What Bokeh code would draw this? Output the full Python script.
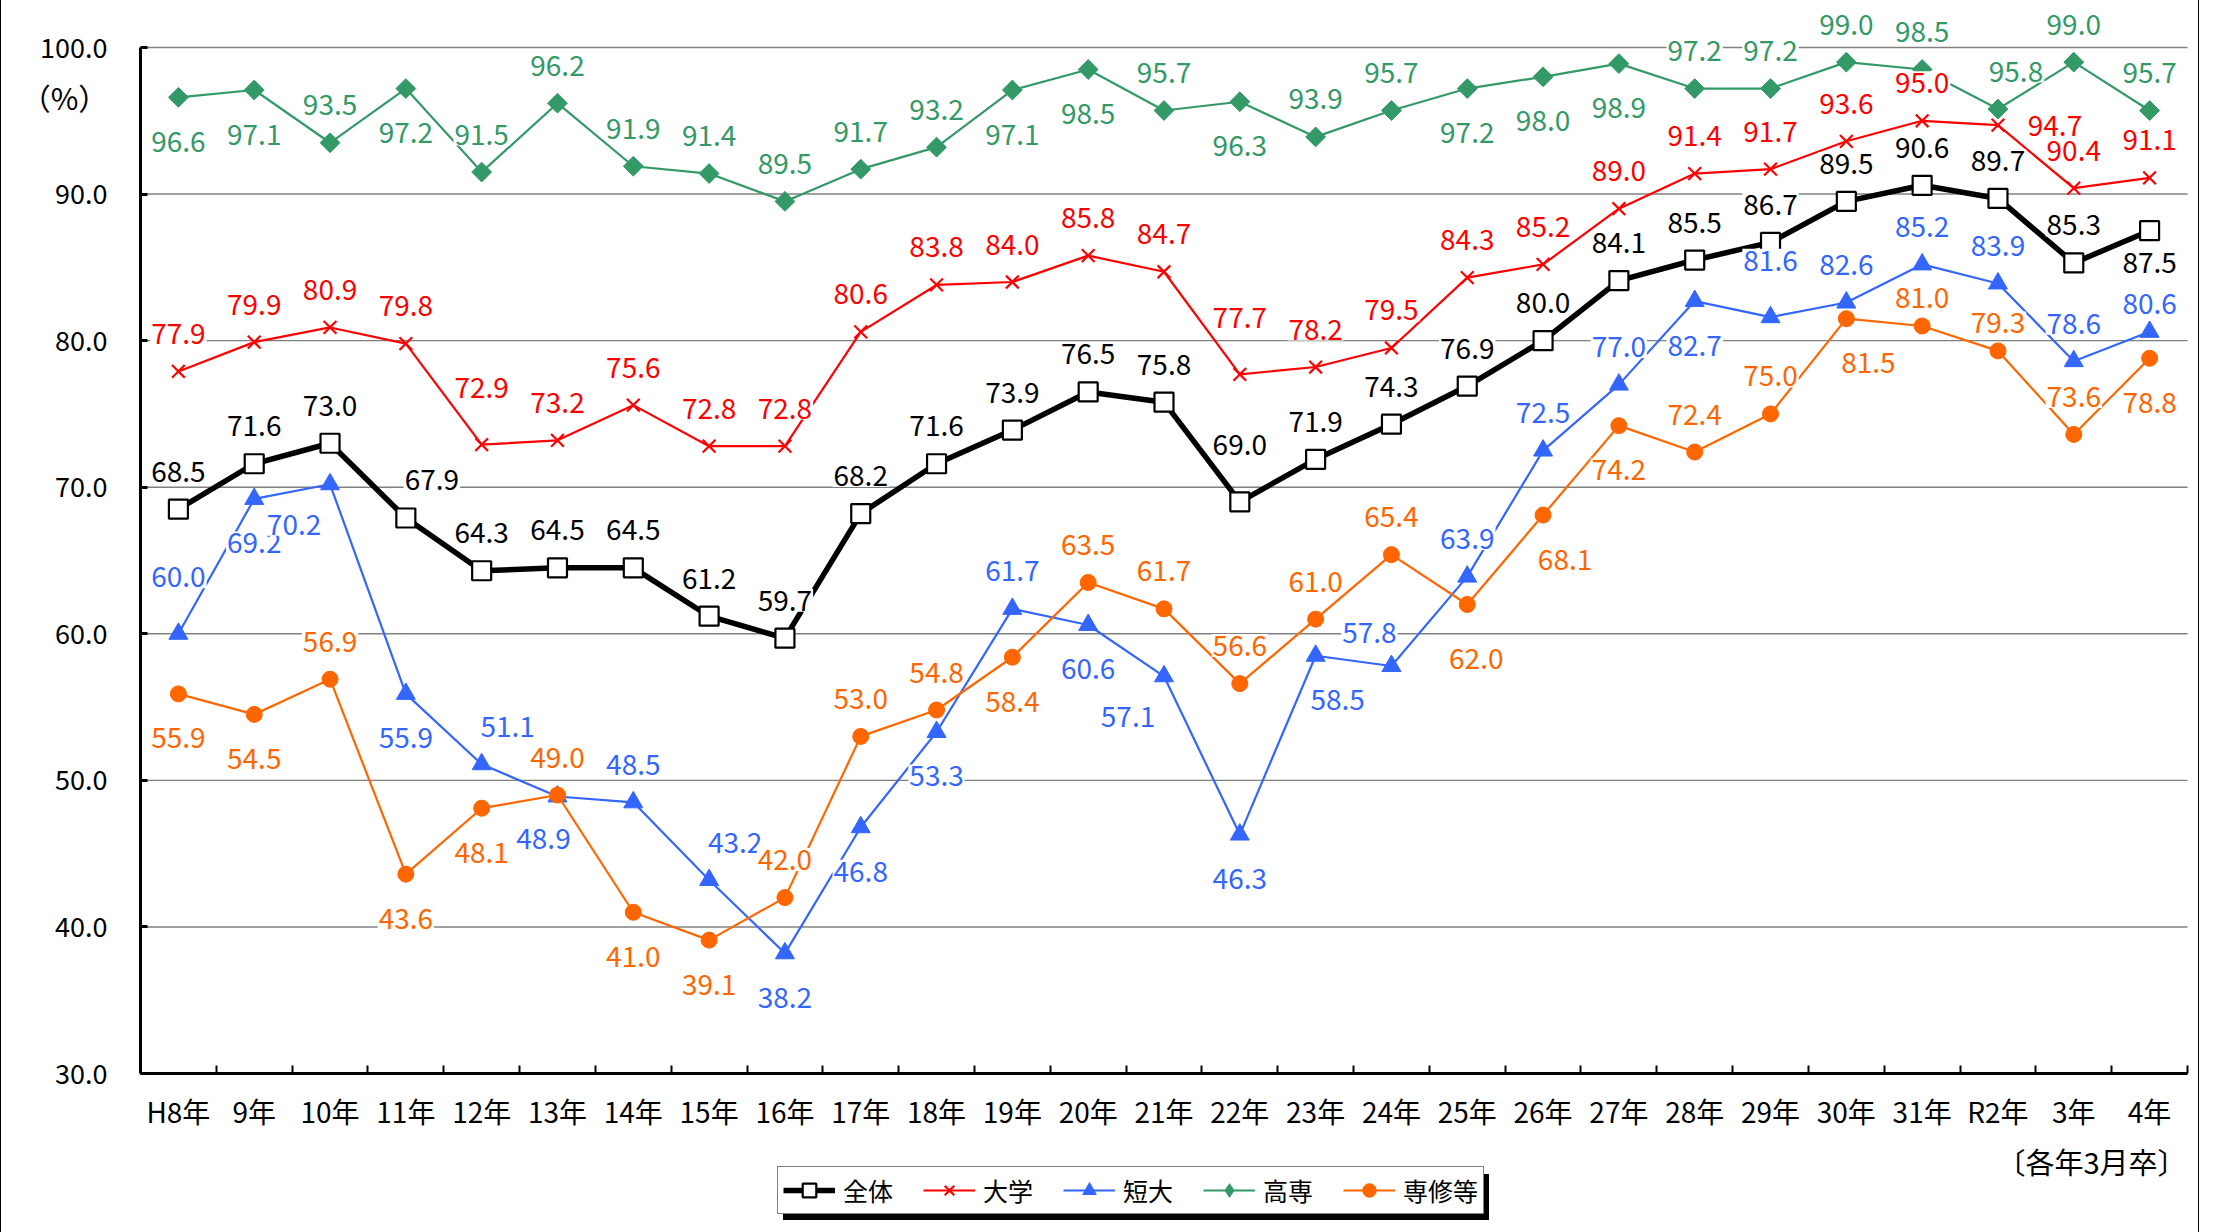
from bokeh.plotting import figure
from bokeh.models import (Range1d, FixedTicker, PrintfTickFormatter, Legend,
                          LegendItem, Label, ColumnDataSource, LinearAxis)
from bokeh.core.properties import value
from bokeh.embed import file_html
from bokeh.resources import INLINE

categories = ["H8年", "9年", "10年", "11年", "12年", "13年", "14年", "15年", "16年",
              "17年", "18年", "19年", "20年", "21年", "22年", "23年", "24年", "25年",
              "26年", "27年", "28年", "29年", "30年", "31年", "R2年", "3年", "4年"]

zentai = [68.5, 71.6, 73.0, 67.9, 64.3, 64.5, 64.5, 61.2, 59.7, 68.2, 71.6, 73.9, 76.5, 75.8,
          69.0, 71.9, 74.3, 76.9, 80.0, 84.1, 85.5, 86.7, 89.5, 90.6, 89.7, 85.3, 87.5]
daigaku = [77.9, 79.9, 80.9, 79.8, 72.9, 73.2, 75.6, 72.8, 72.8, 80.6, 83.8, 84.0, 85.8, 84.7,
           77.7, 78.2, 79.5, 84.3, 85.2, 89.0, 91.4, 91.7, 93.6, 95.0, 94.7, 90.4, 91.1]
tandai = [60.0, 69.2, 70.2, 55.9, 51.1, 48.9, 48.5, 43.2, 38.2, 46.8, 53.3, 61.7, 60.6, 57.1,
          46.3, 58.5, 57.8, 63.9, 72.5, 77.0, 82.7, 81.6, 82.6, 85.2, 83.9, 78.6, 80.6]
kosen = [96.6, 97.1, 93.5, 97.2, 91.5, 96.2, 91.9, 91.4, 89.5, 91.7, 93.2, 97.1, 98.5, 95.7,
         96.3, 93.9, 95.7, 97.2, 98.0, 98.9, 97.2, 97.2, 99.0, 98.5, 95.8, 99.0, 95.7]
senshu = [55.9, 54.5, 56.9, 43.6, 48.1, 49.0, 41.0, 39.1, 42.0, 53.0, 54.8, 58.4, 63.5, 61.7,
          56.6, 61.0, 65.4, 62.0, 68.1, 74.2, 72.4, 75.0, 81.5, 81.0, 79.3, 73.6, 78.8]

y_ticks = [30, 40, 50, 60, 70, 80, 90, 100]

# label placement: a=above, a-=close above, A=far above, b=below, b-=close below,
# B=far below, ar/al/br/bl/bL/ar2 diagonals, r=right
zentai_pos = ["a", "a", "a", "ar", "a", "a", "a", "a", "a", "a", "a", "a", "a", "a",
              "A", "a", "a", "a", "a", "a", "a", "a", "a", "a", "a", "a", "b-"]
daigaku_pos = ["a", "a", "a", "a", "A", "a", "a", "a", "a", "a", "a", "a", "a", "a",
               "A", "a", "a", "a", "a", "a", "a", "a", "a", "a", "r", "a", "a"]
tandai_pos = ["A", "b", "bl", "b", "ar", "bL", "a", "ar", "b", "b", "b", "a", "b", "bl",
              "b", "br", "al", "a", "a", "a", "b", "A", "a", "a", "a", "a", "a-"]
kosen_pos = ["b", "b", "a", "b", "a", "a", "a", "a", "a", "a", "a", "b", "b", "a",
             "b", "a", "a", "b", "b", "b", "a", "a", "a", "a", "ar2", "a", "a"]
senshu_pos = ["b", "b", "a", "b", "b", "a", "b", "b", "a", "a", "a", "b", "a", "a",
              "a", "a", "a", "B", "br", "b", "a", "a", "br", "a-", "a-", "a", "b"]

OFFSETS = {"a": (0, -38), "a-": (0, -28), "A": (0, -57), "b": (0, 44), "b-": (0, 32),
           "B": (9, 54), "ar": (26, -38), "ar2": (18, -38), "al": (-22, -34),
           "br": (22, 44), "bl": (-36, 40), "bL": (-14, 42), "r": (57, 0)}

NUM_FONT = "'Liberation Sans Narrow', 'Noto Sans CJK JP', sans-serif"
JP_FONT = "'Noto Sans CJK JP', sans-serif"

# layout geometry (page pixels)
ORIGIN_X, ORIGIN_Y = 1, 0       # canvas position on the page
W, H = 2199, 1232               # canvas size
AX_LEFT, AX_RIGHT = 140, 2187
Y_TOP_PX, Y_BOT_PX = 47, 1073   # pixel rows of 100 and 30

n = len(categories)
xs = [i + 0.5 for i in range(n)]

px_per_x = (AX_RIGHT - AX_LEFT) / n
px_per_y = (Y_BOT_PX - Y_TOP_PX) / (y_ticks[-1] - y_ticks[0])
x_start = (ORIGIN_X - AX_LEFT) / px_per_x
x_end = (ORIGIN_X + W - AX_LEFT) / px_per_x
y_end = y_ticks[-1] + (Y_TOP_PX - ORIGIN_Y) / px_per_y
y_start = y_ticks[-1] - (ORIGIN_Y + H - Y_TOP_PX) / px_per_y


def page_to_data(px, py):
    return (px - AX_LEFT) / px_per_x, y_ticks[-1] - (py - Y_TOP_PX) / px_per_y


p = figure(width=W, height=H, x_range=Range1d(x_start, x_end), y_range=Range1d(y_start, y_end),
           output_backend="svg", toolbar_location=None, title=None,
           x_axis_location=None, y_axis_location=None,
           min_border=0, min_border_left=0, min_border_right=0,
           min_border_top=0, min_border_bottom=0)
p.outline_line_color = None
p.background_fill_color = "white"
p.border_fill_color = "white"
p.grid.visible = False
p.styles = {"border-left": "1px solid #000000", "border-right": "1px solid #000000"}

# horizontal gridlines spanning the plot area only
grid_src = ColumnDataSource(dict(x0=[0] * len(y_ticks), x1=[n] * len(y_ticks), y=y_ticks))
p.segment(x0="x0", y0="y", x1="x1", y1="y", source=grid_src, line_color="#808080",
          line_width=1.4)

# y axis
yax = LinearAxis(fixed_location=0, bounds=(y_ticks[0], y_ticks[-1]),
                 ticker=FixedTicker(ticks=y_ticks),
                 formatter=PrintfTickFormatter(format="%.1f"))
yax.major_tick_in = 7
yax.major_tick_out = 0
yax.major_tick_line_width = 3
yax.minor_tick_line_color = None
yax.axis_line_width = 3
yax.major_label_standoff = 33
yax.major_label_text_font = NUM_FONT
yax.major_label_text_font_size = "27px"
yax.major_label_text_color = "black"
p.add_layout(yax, "left")

# x axis: labels at centres, ticks at boundaries
xax = LinearAxis(fixed_location=y_ticks[0], bounds=(0, n),
                 ticker=FixedTicker(ticks=xs, minor_ticks=list(range(1, n + 1))))
xax.major_label_overrides = {x: c for x, c in zip(xs, categories)}
xax.major_tick_in = 0
xax.major_tick_out = 0
xax.minor_tick_in = 8
xax.minor_tick_out = 0
xax.minor_tick_line_width = 2
xax.axis_line_width = 3
xax.major_label_standoff = 17
xax.major_label_text_font = NUM_FONT
xax.major_label_text_font_size = "28px"
xax.major_label_text_color = "black"
p.add_layout(xax, "below")

series = [
    ("全体", zentai, zentai_pos, "black", "square", 19, 5.5),
    ("大学", daigaku, daigaku_pos, "#FF0000", "x", 18, 2.2),
    ("短大", tandai, tandai_pos, "#3366FF", "triangle", 19, 2.2),
    ("高専", kosen, kosen_pos, "#339966", "square_rot", 14, 2.2),
    ("専修等", senshu, senshu_pos, "#FF6600", "circle", 16, 2.2),
]

items = []
shadow_items = []
label_sources = []
for name, vals, pos, color, marker, size, lw in series:
    src = ColumnDataSource(dict(x=xs, y=vals,
                                label=["%.1f" % v for v in vals],
                                dx=[OFFSETS[k][0] for k in pos],
                                dy=[OFFSETS[k][1] for k in pos]))
    lr = p.line("x", "y", source=src, line_color=color, line_width=lw)
    legend_renderers = [lr]
    if marker == "square":
        mr = p.scatter("x", "y", source=src, marker="square", size=size, fill_color="white",
                       line_color="black", line_width=2.2)
        legend_renderers.append(mr)
    elif marker == "x":
        mr = p.scatter("x", "y", source=src, marker="x", size=size, line_color=color,
                       line_width=2.2)
        legend_renderers.append(mr)
    elif marker == "square_rot":
        p.scatter("x", "y", source=src, marker="square", angle=0.7854, size=size,
                  fill_color=color, line_color=color, line_width=1)
        # diamond shape for the legend key only
        legend_renderers.append(p.scatter("x", "y", source=src, marker="diamond", size=size,
                                          fill_color=color, line_color=color, visible=False))
    else:
        mr = p.scatter("x", "y", source=src, marker=marker, size=size, fill_color=color,
                       line_color=color, line_width=1)
        legend_renderers.append(mr)
    items.append(LegendItem(label=name, renderers=legend_renderers))
    shadow_items.append(LegendItem(label=" ", renderers=[lr]))
    label_sources.append((src, color))

for src, color in label_sources:
    p.text("x", "y", text="label", source=src, x_offset="dx", y_offset="dy",
           text_align="center", text_baseline="middle", text_color=color,
           text_font=value(NUM_FONT), text_font_size=value("28px"),
           background_fill_color="white", padding=1)

# legend with drop shadow (location measured from the canvas bottom-left)
leg_kw = dict(orientation="horizontal", label_text_font=JP_FONT, label_text_font_size="25px",
              glyph_width=52, glyph_height=34, label_standoff=8, label_width=74,
              label_height=30, spacing=6, padding=5, margin=0)
legend_left = 777 - ORIGIN_X
legend_bottom = ORIGIN_Y + H - 1214
shadow = Legend(items=shadow_items, location=(legend_left + 6, legend_bottom - 6),
                background_fill_color="black", background_fill_alpha=1.0,
                border_line_color="black", label_text_color="black", **leg_kw)
legend = Legend(items=items, location=(legend_left, legend_bottom),
                background_fill_color="white", background_fill_alpha=1.0,
                border_line_color="black", border_line_width=1.5,
                label_text_color="black", **leg_kw)
p.add_layout(shadow, "center")
p.add_layout(legend, "center")

pct_x, pct_y = page_to_data(64, 96)
p.add_layout(Label(x=pct_x, y=pct_y, text="（%）", text_align="center", text_baseline="middle",
                   text_font=JP_FONT, text_font_size="30px", text_color="black"))
note_x, note_y = page_to_data(2186, 1160)
p.add_layout(Label(x=note_x, y=note_y, text="〔各年3月卒〕", text_align="right",
                   text_baseline="middle", text_font=JP_FONT, text_font_size="29px",
                   text_color="black"))

open("out.html", "w").write(file_html(p, INLINE))
